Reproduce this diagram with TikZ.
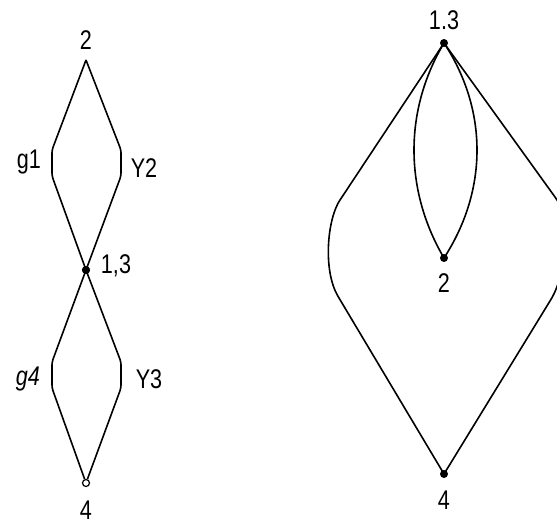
\documentclass[tikz,border=0pt]{standalone}
\usepackage{fontspec}
\setmainfont[FakeStretch=0.8]{Liberation Sans}
\usetikzlibrary{positioning}
\tikzset{
  pt/.style={circle,fill=black,inner sep=0pt,minimum size=8pt},
  opt/.style={circle,draw=black,fill=white,line width=1.2pt,inner sep=0pt,minimum size=7pt},
  vx/.style={inner sep=0pt,minimum size=0pt},
  edge/.style={draw=black,line width=1.6pt,rounded corners=3pt},
  lbl/.style={font=\fontsize{27}{27}\selectfont,inner sep=0pt},
}
\begin{document}
\begin{tikzpicture}[x=1pt,y=-1pt]
\useasboundingbox (0,0) rectangle (557,524);
% left graph
\node[vx] (a2) at (86,60) {};
\node[pt] (a13) at (86,270) {};
\node[opt] (a4) at (86,483) {};
\draw[edge] (a2.center) -- (52,150) -- (52,176) -- (a13.center);
\draw[edge] (a2.center) -- (121,150) -- (121,176) -- (a13.center);
\draw[edge] (a13.center) -- (52,362) -- (52,388) -- (a4);
\draw[edge] (a13.center) -- (121,362) -- (121,388) -- (a4);
\node[pt] at (a13) {};
\node[lbl] (t2) at (86,40) {2};
\node[lbl] (tg1) at (29,162) {g1};
\node[lbl] (ty2) at (144,168) {Y2};
\node[lbl] (ta13) at (116,266) {1,3};
\node[lbl] (tg4) at (28,379) {\textit{g4}};
\node[lbl] (ty3) at (149,379) {Y3};
\node[lbl] (t4) at (86,510) {4};
% right graph
\node[pt] (b13) at (444,43) {};
\node[pt] (b2) at (444,258) {};
\node[pt] (b4) at (444,474) {};
\draw[edge] (b13.center) .. controls (404,110) and (404,190) .. (b2.center);
\draw[edge] (b13.center) .. controls (488,110) and (488,190) .. (b2.center);
\draw[edge] (b13.center) -- (342,197) .. controls (327,219) and (323,270) .. (339,298) -- (b4.center);
\draw[edge] (b13.center) -- (555,197) .. controls (570,219) and (567,272) .. (550,301) -- (b4.center);
\node[lbl] (tb13) at (444,20) {1.3};
\node[lbl] (tb2) at (444,283) {2};
\node[lbl] (tb4) at (444,500) {4};
\end{tikzpicture}
\end{document}
